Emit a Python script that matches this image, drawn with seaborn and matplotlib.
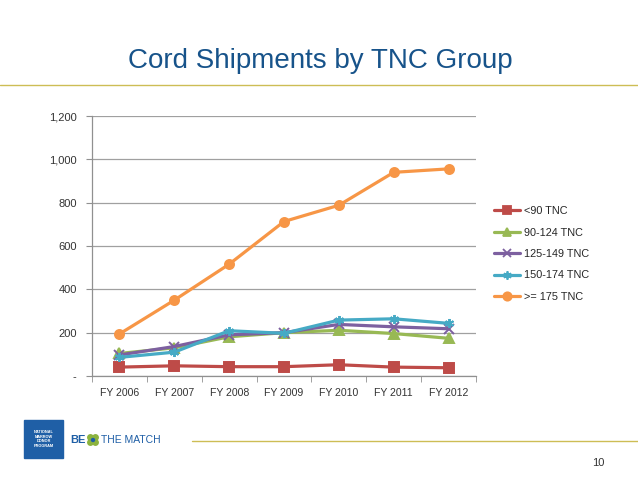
import numpy as np
import pandas as pd
import matplotlib.pyplot as plt
import matplotlib.patches as mpatches
from matplotlib.lines import Line2D
import seaborn as sns

# DATA

years = ["FY 2006", "FY 2007", "FY 2008", "FY 2009", "FY 2010", "FY 2011", "FY 2012"]
groups = ["<90 TNC", "90-124 TNC", "125-149 TNC", "150-174 TNC", ">= 175 TNC"]

lt90 = [41, 47, 43, 43, 52, 41, 38]
tnc_90_124 = [104, 130, 181, 200, 211, 196, 174]
tnc_125_149 = [97, 136, 190, 200, 238, 227, 218]
tnc_150_174 = [86, 110, 209, 197, 258, 264, 243]
ge175 = [194, 350, 516, 713, 788, 940, 956]

series = [lt90, tnc_90_124, tnc_125_149, tnc_150_174, ge175]

rows = []
for g, vals in zip(groups, series):
    for y, v in zip(years, vals):
        rows.append([y, v, g])
df = pd.DataFrame(rows, columns=["Year", "Shipments", "Group"])

palette = {
    "<90 TNC": "#BE4B48",
    "90-124 TNC": "#98B954",
    "125-149 TNC": "#7D60A0",
    "150-174 TNC": "#46AAC5",
    ">= 175 TNC": "#F79646",
}
markers = {
    "<90 TNC": "s",
    "90-124 TNC": "^",
    "125-149 TNC": "x",
    "150-174 TNC": (6, 2, 0),
    ">= 175 TNC": "o",
}

# PLOT

sns.set_style("white")
plt.rcParams['font.family'] = ['Liberation Sans', 'DejaVu Sans']

fig = plt.figure(figsize=(6.38, 4.79), dpi=100)
ax = fig.add_axes([92 / 638, 1 - 376 / 479, (476 - 92) / 638, (376 - 116) / 479])

# one call per group: seaborn won't mix filled and line-art markers in one call
for g in groups:
    sns.lineplot(
        data=df[df["Group"] == g], x="Year", y="Shipments",
        color=palette[g], marker=markers[g], markersize=6.5,
        markeredgecolor=palette[g], markeredgewidth=1.4,
        linewidth=2.3, sort=False, ax=ax,
    )

ax.set_xlim(-0.5, len(years) - 0.5)
ax.set_ylim(0, 1200)
ax.set_yticks(range(0, 1201, 200))
ax.set_yticklabels(["-"] + [f"{v:,}" for v in range(200, 1201, 200)])
ax.set_xticks(range(len(years)))
ax.set_xticklabels(years)
ax.set_xticks(np.arange(-0.5, len(years), 1.0), minor=True)
ax.set_xlabel("")
ax.set_ylabel("")
ax.grid(axis="y", color="#A0A0A0", linewidth=0.9)
ax.set_axisbelow(True)

for s in ["top", "right"]:
    ax.spines[s].set_visible(False)
for s in ["left", "bottom"]:
    ax.spines[s].set_color("#909090")
    ax.spines[s].set_linewidth(0.9)

ax.tick_params(axis="y", which="major", left=True, length=4, color="#909090",
               labelsize=8, labelcolor="#333333", pad=7)
ax.tick_params(axis="x", which="major", bottom=False, labelsize=7.6,
               labelcolor="#333333", pad=5)
ax.tick_params(axis="x", which="minor", bottom=True, length=4, color="#909090")

# Legend
handles = [
    Line2D([0], [0], color=palette[g], marker=markers[g], markersize=6,
           markeredgecolor=palette[g], markeredgewidth=1.3, linewidth=2.3)
    for g in groups
]
fig.legend(handles, groups, loc="center left", bbox_to_anchor=(490 / 638, 1 - 254 / 479),
           frameon=False, fontsize=7.8, handlelength=2.4, handletextpad=0.3,
           labelspacing=1.05, borderaxespad=0)

# Slide title and decorations
fig.text(320 / 638, 1 - 61 / 479, "Cord Shipments by TNC Group", ha="center", va="center",
         fontsize=20, color="#17538A")
fig.add_artist(Line2D([0, 1], [1 - 85 / 479] * 2, color="#CDBD55", linewidth=1.0))
fig.add_artist(Line2D([192 / 638, 1], [1 - 441 / 479] * 2, color="#CDBD55", linewidth=1.0))
fig.text(598 / 638, 1 - 463 / 479, "10", ha="center", va="center", fontsize=8, color="#333333")

# Logo
fig.add_artist(mpatches.Rectangle((24 / 638, 1 - 458 / 479), 39 / 638, 38 / 479,
                                  color="#1F5FA6", transform=fig.transFigure))
fig.text(43.5 / 638, 1 - 439 / 479, "NATIONAL\nMARROW\nDONOR\nPROGRAM",
         ha="center", va="center", fontsize=2.8, color="white", fontweight="bold",
         linespacing=1.3)
fig.text(70 / 638, 1 - 440 / 479, "BE", ha="left", va="center", fontsize=8,
         color="#1F5FA6", fontweight="bold")
for dx, dy in [(-2.5, -2.5), (2.5, -2.5), (-2.5, 2.5), (2.5, 2.5)]:
    fig.add_artist(mpatches.Ellipse(((93 + dx) / 638, 1 - (440 + dy) / 479), 5.5 / 638, 5.5 / 479,
                                    color="#8CB33E", transform=fig.transFigure))
fig.add_artist(mpatches.Ellipse((93 / 638, 1 - 440 / 479), 3 / 638, 3 / 479,
                                color="#1F5FA6", transform=fig.transFigure))
fig.text(101 / 638, 1 - 440 / 479, "THE MATCH", ha="left", va="center", fontsize=7.5,
         color="#1F5FA6")

plt.savefig("out.png", dpi=100)
